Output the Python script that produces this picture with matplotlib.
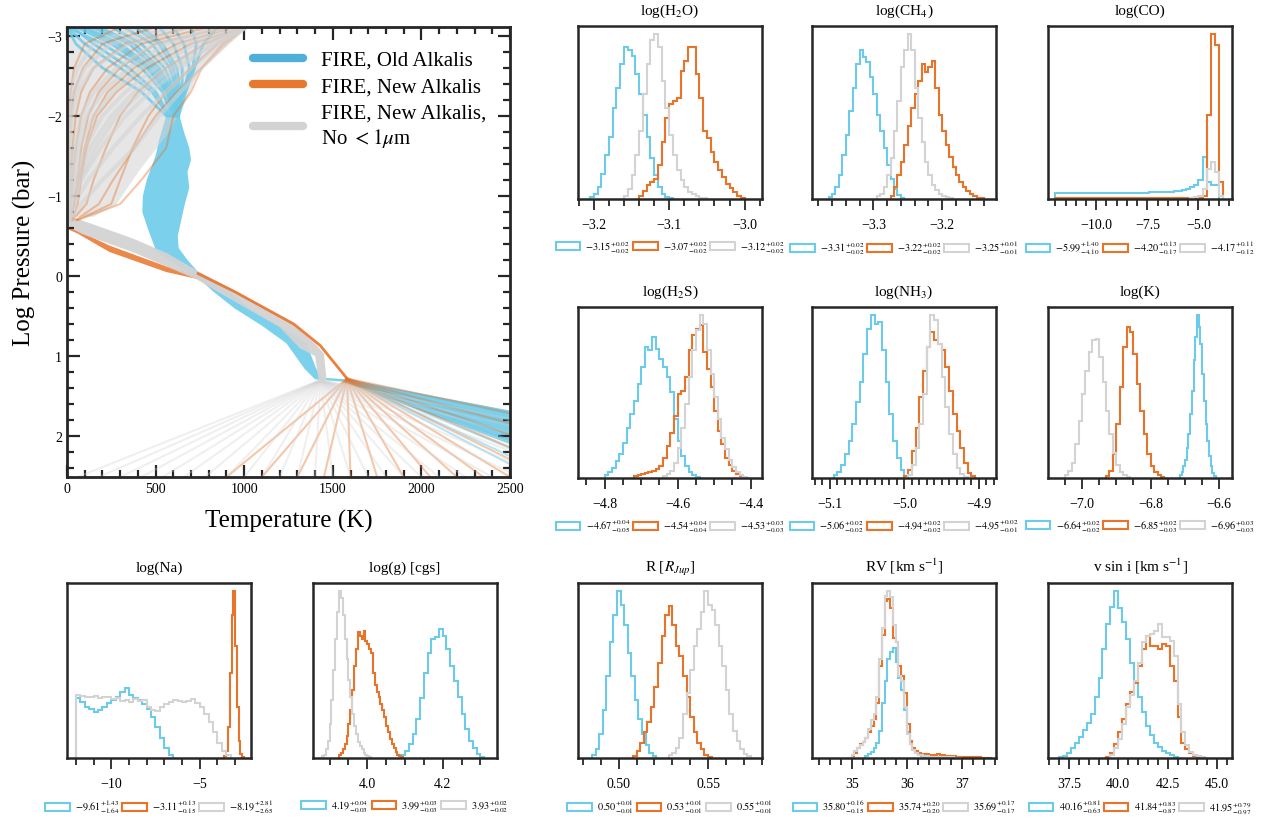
import numpy as np
import matplotlib
matplotlib.use("Agg")
import matplotlib.pyplot as plt
from matplotlib.patches import Patch
from matplotlib.ticker import MultipleLocator

plt.rcParams['font.family'] = 'serif'
plt.rcParams['font.serif'] = ['Liberation Serif', 'DejaVu Serif']
plt.rcParams['mathtext.fontset'] = 'stix'

C_OLD = '#6DCBEA'
C_NEW = '#E8732A'
C_NOUV = '#D3D3D3'
LEG_COLORS = ['#4FAFD9', '#E8782F', '#D3D3D3']
model_names = ['FIRE, Old Alkalis', 'FIRE, New Alkalis', 'FIRE, New Alkalis,\nNo $<1\\mu$m']

# ---------------- P-T profile data (T in K, log P in bar) ----------------
top_p = [-3.11, -2.9, -2.6, -2.3, -2.0, -1.6, -1.2, -0.9, -0.7]
blue_top_p = [-3.11, -2.9, -2.6, -2.3, -2.0]

blue_band_T = [635, 660, 690, 700, 680, 690, 665, 645, 625, 630, 680, 740, 767, 917, 1030, 1200, 1351,
               1407, 1440, 1577, 2500, 2500, 1560, 1400, 1341, 1238, 1100, 946, 823, 729, 640, 505,
               480, 455, 425, 428, 450, 500, 520, 560]
blue_band_P = [-2.0, -1.8, -1.6, -1.45, -1.3, -1.1, -0.9, -0.7, -0.5, -0.35, -0.2, -0.05, 0.0, 0.19,
               0.4, 0.62, 0.84, 1.16, 1.27, 1.29, 1.68, 2.1, 1.32, 1.29, 1.16, 0.84, 0.62, 0.405, 0.19,
               0.0, -0.1, -0.3, -0.45, -0.6, -0.8, -1.0, -1.2, -1.5, -1.7, -2.0]
blue_top_lines = [[0, 200, 420, 540, 590], [100, 300, 480, 580, 610], [250, 420, 550, 610, 625],
                  [420, 540, 620, 640, 630], [600, 660, 690, 660, 620], [850, 770, 720, 670, 630],
                  [0, 100, 300, 480, 570], [180, 380, 520, 600, 615], [50, 250, 450, 560, 600],
                  [700, 730, 710, 650, 600], [320, 480, 580, 620, 620], [0, 50, 200, 420, 560],
                  [140, 350, 500, 590, 615], [520, 600, 650, 650, 625], [30, 150, 350, 500, 580],
                  [380, 520, 600, 630, 625], [80, 280, 460, 570, 605]]
blue_fan_end_P = [1.72, 1.8, 1.88, 1.96, 2.05, 2.15, 2.25, 2.35]

orange_mid_T = [0, 240, 560, 760, 760, 560, 240, 60, 0]
orange_mid_P = [-0.63, -0.38, -0.12, 0.0, 0.05, -0.05, -0.30, -0.53, -0.59]
orange_edge_T = [740, 950, 1280, 1430, 1580]
orange_edge_P = [-0.03, 0.2, 0.6, 0.87, 1.28]
orange_top_lines = [[1010, 780, 560, 400, 300, 220, 150, 110, 30], [900, 500, 300, 180, 120, 80, 60, 40, 15],
                    [700, 330, 150, 80, 50, 30, 20, 15, 10], [1000, 850, 700, 560, 460, 370, 300, 250, 60],
                    [500, 200, 90, 40, 20, 10, 10, 10, 10], [1010, 700, 450, 280, 170, 110, 80, 60, 30],
                    [800, 420, 230, 130, 80, 50, 30, 20, 15], [1010, 900, 760, 620, 500, 380, 260, 180, 50],
                    [300, 100, 40, 20, 10, 10, 10, 10, 10], [950, 620, 380, 230, 150, 100, 70, 40, 20],
                    [1010, 880, 760, 700, 600, 560, 420, 300, 60]]
orange_fan_end_T = [900, 1100, 1300, 1450, 1600, 1750, 1900, 2050, 2200, 2350, 2500, 2700, 2900,
                    3200, 3600, 4200]

grey_top_T = [0, 1010, 900, 748, 672, 560, 409, 277, 150, 0]
grey_top_P = [-3.11, -3.11, -2.91, -2.61, -2.18, -1.75, -1.32, -0.89, -0.74, -0.74]
grey_band_T = [0, 90, 370, 560, 740, 936, 1275, 1407, 1450, 1465, 1420, 1400, 1313, 1200, 861, 730,
               560, 370, 90, 0]
grey_band_P = [-0.76, -0.69, -0.47, -0.29, -0.06, 0.17, 0.6, 0.86, 0.97, 1.3, 1.3, 1.0, 0.9, 0.64,
               0.21, 0.04, -0.12, -0.3, -0.52, -0.62]
grey_top_lines = [[1010, 860, 700, 560, 420, 260, 120, 40, 10], [1000, 780, 560, 380, 250, 130, 50, 15, 10],
                  [950, 650, 420, 260, 150, 70, 25, 10, 10], [900, 500, 280, 150, 80, 40, 15, 5, 10],
                  [700, 350, 150, 60, 30, 15, 5, 5, 10], [1010, 900, 760, 640, 520, 380, 200, 80, 20],
                  [400, 150, 60, 20, 10, 5, 5, 5, 10], [1010, 820, 640, 470, 330, 190, 80, 30, 15],
                  [600, 250, 100, 40, 20, 10, 5, 5, 10], [1005, 720, 500, 330, 200, 100, 40, 15, 10],
                  [1010, 840, 600, 420, 280, 160, 70, 25, 10], [850, 560, 350, 200, 110, 50, 20, 8, 10]]
grey_fan_end_T = [60, 180, 300, 420, 540, 660, 780, 900, 1000, 1100, 1200, 1300, 1400, 1500, 1600,
                  1700, 1800, 1900, 2000, 2100, 2250, 2400, 2550, 2700, 2900, 3100, 3400, 3700, 4100]

# ---------------- posterior histograms: (first edge, bin width, heights) ----------------
h2o_old = (-3.205, 0.005, [5, 15, 35, 75, 130, 185, 270, 330, 400, 450, 440, 425, 370, 310, 250, 185, 120, 70, 35, 15, 6, 2])
h2o_new = (-3.14, 0.005, [8, 25, 40, 50, 60, 100, 170, 240, 280, 290, 300, 380, 410, 450, 450, 370, 300, 200, 180, 140, 110, 85, 65, 45, 32, 20, 10, 4])
h2o_nouv = (-3.16, 0.005, [8, 30, 70, 130, 200, 310, 400, 470, 488, 450, 350, 270, 190, 130, 85, 55, 35, 22, 14, 8, 4, 2])

ch4_old = (-3.365, 0.005, [5, 15, 35, 70, 130, 190, 260, 330, 400, 440, 420, 405, 360, 310, 250, 200, 150, 100, 60, 30, 12, 3])
ch4_new = (-3.275, 0.005, [10, 35, 70, 110, 160, 215, 270, 310, 350, 400, 375, 390, 410, 330, 250, 200, 160, 125, 95, 70, 50, 35, 25, 15, 9, 4, 2])
ch4_nouv = (-3.295, 0.005, [8, 15, 35, 70, 120, 200, 290, 390, 440, 488, 440, 330, 240, 170, 110, 70, 42, 28, 16, 10, 5, 2])

co_old = (-12.0, 0.2, [18, 17, 18, 17, 17, 18, 17, 17, 18, 18, 17, 18, 18, 17, 18, 18, 18, 19, 18, 18, 19, 19, 19, 20, 20, 20, 21, 21, 22, 23, 25, 27, 30, 35, 40, 55, 125, 50, 40, 40])
co_new = (-12.0, 0.2, [3, 2, 3, 3, 2, 3, 3, 3, 2, 3, 3, 3, 2, 3, 3, 3, 3, 2, 3, 3, 3, 3, 3, 2, 3, 3, 3, 3, 3, 3, 3, 3, 3, 3, 3, 4, 8, 250, 488, 455, 50])
co_nouv = (-5.4, 0.2, [3, 5, 8, 30, 90, 110, 80, 10])

h2s_old = (-4.80, 0.01, [8, 18, 30, 50, 70, 105, 150, 190, 230, 280, 330, 390, 380, 420, 385, 355, 330, 300, 255, 175, 110, 65, 35, 18, 8, 3])
h2s_new = (-4.72, 0.01, [5, 10, 12, 15, 18, 20, 28, 35, 60, 95, 135, 185, 250, 260, 300, 380, 425, 445, 455, 375, 325, 270, 200, 140, 100, 60, 38, 22, 12, 5])
h2s_nouv = (-4.64, 0.01, [5, 12, 20, 45, 90, 150, 220, 300, 380, 440, 485, 460, 380, 310, 240, 175, 120, 85, 55, 32, 18, 10, 4])

nh3_old = (-5.095, 0.005, [8, 18, 40, 70, 110, 160, 225, 285, 370, 445, 485, 460, 465, 380, 285, 190, 110, 60, 25, 6])
nh3_new = (-5.0, 0.005, [7, 25, 80, 150, 240, 320, 390, 435, 410, 400, 380, 330, 260, 190, 140, 90, 45, 15, 5])
nh3_nouv = (-4.995, 0.005, [10, 40, 90, 160, 250, 390, 485, 470, 400, 300, 210, 130, 70, 30, 12, 4])

k_old = (-6.715, 0.005, [8, 18, 35, 55, 90, 130, 190, 260, 350, 420, 485, 450, 400, 310, 230, 160, 110, 65, 35, 15, 5])
k_new = (-6.93, 0.01, [5, 20, 70, 160, 270, 390, 450, 435, 370, 280, 200, 130, 70, 35, 18, 10, 4])
k_nouv = (-7.05, 0.01, [8, 20, 45, 100, 170, 250, 320, 375, 410, 415, 360, 285, 200, 130, 75, 40, 18, 8, 3])

na_old = (-12.0, 0.25, [175, 165, 150, 145, 135, 140, 150, 162, 170, 180, 195, 205, 185, 175, 170, 160, 145, 120, 90, 60, 30, 8])
na_new = (-3.6, 0.1, [5, 20, 90, 250, 420, 490, 330, 150, 50, 12, 3])
na_nouv = (-12.0, 0.25, [185, 182, 180, 178, 182, 176, 180, 178, 172, 176, 168, 170, 165, 172, 168, 170, 150, 140, 138, 150, 160, 165, 170, 168, 165, 167, 172, 162, 150, 130, 105, 75, 45, 22, 8])

logg_old = (4.09, 0.01, [8, 22, 40, 70, 115, 175, 250, 310, 350, 355, 378, 360, 320, 270, 225, 180, 130, 85, 50, 28, 12, 4])
logg_new = (3.925, 0.005, [8, 15, 25, 40, 65, 100, 140, 200, 270, 320, 370, 360, 350, 373, 345, 335, 320, 310, 250, 215, 195, 180, 160, 140, 120, 95, 75, 55, 40, 28, 18, 10, 6, 3])
logg_nouv = (3.88, 0.005, [5, 10, 25, 50, 100, 170, 260, 350, 430, 490, 470, 420, 350, 290, 230, 180, 130, 95, 70, 48, 35, 25, 15, 10, 6, 3])

r_old = (0.485, 0.002, [8, 25, 70, 140, 240, 340, 420, 490, 450, 390, 310, 240, 170, 115, 70, 38, 15, 5])
r_new = (0.508, 0.002, [6, 20, 45, 75, 105, 150, 210, 280, 360, 420, 448, 390, 330, 300, 240, 180, 120, 75, 45, 25, 10, 4])
r_nouv = (0.528, 0.002, [8, 15, 28, 60, 130, 190, 260, 330, 380, 430, 490, 450, 435, 390, 330, 270, 200, 130, 80, 50, 25, 12, 5])

rv_old = (35.25, 0.05, [6, 12, 18, 28, 45, 80, 160, 225, 290, 310, 323, 280, 235, 200, 140, 75, 40, 25, 15, 9, 5, 3])
rv_new = (35.0, 0.05, [5, 14, 30, 40, 48, 60, 75, 95, 115, 160, 270, 360, 460, 465, 440, 350, 340, 270, 240, 190, 100, 50, 30, 20, 14, 12, 11, 11, 10, 10, 10, 11, 10, 8, 7, 6, 5, 5, 4, 4, 3, 3, 3, 2, 2, 2, 2, 1, 1, 1, 1])
rv_nouv = (35.0, 0.05, [8, 20, 30, 38, 48, 60, 85, 110, 130, 180, 290, 380, 475, 488, 470, 390, 340, 240, 225, 150, 70, 40, 22, 14, 10, 8, 6, 5, 4, 3, 3, 3, 2, 2, 2, 2, 2, 1, 1, 1])

vsini_old = (37.0, 0.2, [3, 7, 15, 28, 45, 62, 82, 103, 130, 180, 235, 320, 395, 445, 490, 440, 400, 350, 280, 225, 180, 135, 95, 68, 45, 32, 22, 14, 8, 3])
vsini_new = (39.4, 0.2, [3, 15, 40, 75, 115, 160, 195, 220, 270, 320, 360, 330, 330, 320, 335, 328, 270, 225, 120, 45, 25, 14, 6, 3])
vsini_nouv = (39.6, 0.2, [8, 28, 55, 100, 150, 185, 225, 280, 340, 360, 365, 372, 393, 355, 355, 345, 300, 160, 75, 38, 18, 10, 5, 2])

# median, +err, -err
h2o_stats = [(-3.15, 0.02, 0.02), (-3.07, 0.02, 0.02), (-3.12, 0.02, 0.02)]
ch4_stats = [(-3.31, 0.02, 0.02), (-3.22, 0.02, 0.02), (-3.25, 0.01, 0.01)]
co_stats = [(-5.99, 1.40, 4.10), (-4.20, 0.13, 0.17), (-4.17, 0.11, 0.12)]
h2s_stats = [(-4.67, 0.04, 0.05), (-4.54, 0.04, 0.04), (-4.53, 0.03, 0.03)]
nh3_stats = [(-5.06, 0.02, 0.02), (-4.94, 0.02, 0.02), (-4.95, 0.02, 0.01)]
k_stats = [(-6.64, 0.02, 0.02), (-6.85, 0.02, 0.03), (-6.96, 0.03, 0.03)]
na_stats = [(-9.61, 1.43, 1.64), (-3.11, 0.13, 0.15), (-8.19, 2.81, 2.65)]
logg_stats = [(4.19, 0.04, 0.03), (3.99, 0.03, 0.03), (3.93, 0.02, 0.02)]
r_stats = [(0.50, 0.01, 0.01), (0.53, 0.01, 0.01), (0.55, 0.01, 0.01)]
rv_stats = [(35.80, 0.16, 0.15), (35.74, 0.20, 0.20), (35.69, 0.17, 0.17)]
vsini_stats = [(40.16, 0.81, 0.63), (41.84, 0.83, 0.87), (41.95, 0.79, 0.97)]

W, H = 1278, 820
fig = plt.figure(figsize=(W / 100, H / 100), dpi=100)

# ---------------- P-T panel ----------------
ax = fig.add_axes([67 / W, 1 - 478 / H, 443 / W, 450 / H])

ax.fill(blue_band_T, blue_band_P, color=C_OLD, alpha=0.9, lw=0)
for prof in blue_top_lines:
    ax.plot(prof, blue_top_p, color=C_OLD, alpha=0.85, lw=2)
for p_end in blue_fan_end_P:
    ax.plot([1577, 2500], [1.29, p_end], color=C_OLD, alpha=0.5, lw=1.5)

ax.fill(orange_mid_T, orange_mid_P, color=C_NEW, alpha=0.85, lw=0)
ax.plot(orange_edge_T, orange_edge_P, color=C_NEW, alpha=0.9, lw=2)
for prof in orange_top_lines:
    ax.plot(prof, top_p, color=C_NEW, alpha=0.4, lw=1.5)
for t_end in orange_fan_end_T:
    ax.plot([1580, t_end], [1.28, 2.51], color=C_NEW, alpha=0.4, lw=1.5)

ax.fill(grey_top_T, grey_top_P, color=C_NOUV, alpha=0.55, lw=0)
for prof in grey_top_lines:
    ax.plot(prof, top_p, color=C_NOUV, alpha=0.55, lw=3)
ax.fill(grey_band_T, grey_band_P, color=C_NOUV, alpha=0.95, lw=0)
for t_end in grey_fan_end_T:
    ax.plot([1430, t_end], [1.3, 2.51], color=C_NOUV, alpha=0.35, lw=1.5)

ax.set_xlim(0, 2500)
ax.set_ylim(2.51, -3.11)
ax.xaxis.set_major_locator(MultipleLocator(500))
ax.xaxis.set_minor_locator(MultipleLocator(100))
ax.yaxis.set_major_locator(MultipleLocator(1))
ax.yaxis.set_minor_locator(MultipleLocator(0.2))
ax.tick_params(which='both', direction='in', top=True, right=True, width=1.6, color='#262626',
               labelsize=10)
ax.tick_params(which='major', length=9)
ax.tick_params(which='minor', length=5)
for s in ax.spines.values():
    s.set_linewidth(2)
    s.set_color('#262626')
ax.set_xlabel('Temperature (K)', fontsize=18, labelpad=10)
ax.set_ylabel('Log Pressure (bar)', fontsize=18, labelpad=8)
leg_lines = [plt.Line2D([], [], color=c, lw=6, solid_capstyle='round') for c in LEG_COLORS]
ax.legend(leg_lines, model_names, loc='upper right', bbox_to_anchor=(0.99, 0.99), fontsize=15,
          frameon=False, handlelength=2.4, labelspacing=0.35, handletextpad=0.9)

# ---------------- histogram panels ----------------
PW = 184


def hist_panel(x0, y0, y1, title, sets, stats, xlim, major, minor):
    ph = y1 - y0
    a = fig.add_axes([x0 / W, 1 - y1 / H, PW / W, ph / H])
    top = 0
    for (lo, w, h), c in zip(sets, [C_OLD, C_NEW, C_NOUV]):
        edges = lo + w * np.arange(len(h) + 1)
        a.stairs(h, edges, color=c, lw=1.5)
        top = max(top, max(h))
    a.set_xlim(*xlim)
    a.set_ylim(0, top * 1.05)
    a.set_yticks([])
    a.xaxis.set_major_locator(MultipleLocator(major))
    a.xaxis.set_minor_locator(MultipleLocator(minor))
    a.tick_params(which='both', direction='out', width=1.3, color='#262626', labelsize=10, pad=6)
    a.tick_params(which='major', length=8)
    a.tick_params(which='minor', length=5)
    for s in a.spines.values():
        s.set_linewidth(1.8)
        s.set_color('#262626')
    a.set_title(title, fontsize=11, pad=9)
    handles = [Patch(facecolor='none', edgecolor=c, lw=1.5) for c in [C_OLD, C_NEW, C_NOUV]]
    labels = [rf'${m:.2f}^{{+{p:.2f}}}_{{-{n:.2f}}}$' for m, p, n in stats]
    a.legend(handles, labels, loc='upper center', bbox_to_anchor=(0.5, -40 / ph), ncol=3,
             frameon=False, fontsize=7.4, handlelength=2.4, handleheight=0.8, handletextpad=0.5,
             columnspacing=0.3, borderpad=0, borderaxespad=0)
    return a


hist_panel(578, 27, 200, 'log(H$_2$O)', [h2o_old, h2o_new, h2o_nouv], h2o_stats, (-3.221, -2.977), 0.1, 0.02)
hist_panel(812, 27, 200, 'log(CH$_4$)', [ch4_old, ch4_new, ch4_nouv], ch4_stats, (-3.389, -3.122), 0.1, 0.02)
hist_panel(1048, 27, 200, 'log(CO)', [co_old, co_new, co_nouv], co_stats, (-12.36, -3.36), 2.5, 0.5)
hist_panel(578, 308, 479, 'log(H$_2$S)', [h2s_old, h2s_new, h2s_nouv], h2s_stats, (-4.873, -4.369), 0.2, 0.05)
hist_panel(812, 308, 479, 'log(NH$_3$)', [nh3_old, nh3_new, nh3_nouv], nh3_stats, (-5.124, -4.877), 0.1, 0.01)
hist_panel(1048, 308, 479, 'log(K)', [k_old, k_new, k_nouv], k_stats, (-7.099, -6.563), 0.2, 0.05)
hist_panel(67, 584, 759, 'log(Na)', [na_old, na_new, na_nouv], na_stats, (-12.5, -2.1), 5, 1)
hist_panel(313, 584, 759, 'log(g) [cgs]', [logg_old, logg_new, logg_nouv], logg_stats, (3.856, 4.344), 0.2, 0.05)
hist_panel(578, 584, 759, 'R [$R_{Jup}$]', [r_old, r_new, r_nouv], r_stats, (0.4772, 0.5802), 0.05, 0.01)
hist_panel(812, 584, 759, 'RV [km s$^{-1}$]', [rv_old, rv_new, rv_nouv], rv_stats, (34.28, 37.62), 1, 0.2)
hist_panel(1048, 584, 759, 'v sin i [km s$^{-1}$]', [vsini_old, vsini_new, vsini_nouv], vsini_stats, (36.44, 45.76), 2.5, 0.5)

fig.savefig('out.png', dpi=100)
